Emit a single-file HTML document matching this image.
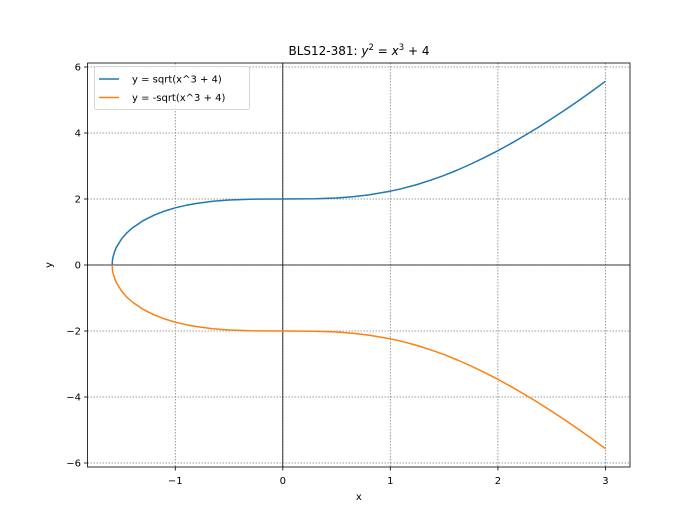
<!DOCTYPE html>
<html><head><meta charset="utf-8"><style>
html,body{margin:0;padding:0;background:#fff;}
svg{display:block;font-family:"DejaVu Sans","Liberation Sans",sans-serif;}
</style></head><body>
<svg width="700" height="525" viewBox="0 0 700 525" xmlns="http://www.w3.org/2000/svg">
<rect width="700" height="525" fill="#fff"/>
<g stroke="#808080" stroke-width="0.8" stroke-dasharray="1.5,1.5">
<line x1="175.3" y1="63" x2="175.3" y2="467"/>
<line x1="282.8" y1="63" x2="282.8" y2="467"/>
<line x1="390.3" y1="63" x2="390.3" y2="467"/>
<line x1="497.9" y1="63" x2="497.9" y2="467"/>
<line x1="605.4" y1="63" x2="605.4" y2="467"/>
<line x1="87.5" y1="67" x2="630" y2="67"/>
<line x1="87.5" y1="133" x2="630" y2="133"/>
<line x1="87.5" y1="199" x2="630" y2="199"/>
<line x1="87.5" y1="265" x2="630" y2="265"/>
<line x1="87.5" y1="331" x2="630" y2="331"/>
<line x1="87.5" y1="397" x2="630" y2="397"/>
<line x1="87.5" y1="463" x2="630" y2="463"/>
</g>
<line x1="87.5" y1="265" x2="630" y2="265" stroke="#000" stroke-width="0.8"/>
<line x1="282.8" y1="63" x2="282.8" y2="467" stroke="#000" stroke-width="0.8"/>
<g fill="none" stroke-width="1.5" stroke-linejoin="round" stroke-linecap="butt">
<polyline id="up" stroke="#1f77b4" points="112.2,265 112.4,260.9 112.7,258.6 113.3,255.9 114.4,252.2 116.2,247.7 121.6,238.9 126.9,232.8 132.3,228.0 143.0,220.7 153.8,215.3 164.5,211.1 175.3,207.8 186.1,205.3 196.8,203.4 212.9,201.3 229.1,200.0 250.5,199.2 282.8,199.0 315.1,198.8 336.6,198.0 352.7,196.8 368.8,194.9 390.3,191.2 401.1,188.8 417.2,184.5 430.6,180.2 444.1,175.4 457.5,170.0 471.0,164.0 484.4,157.6 497.9,150.7 511.3,143.3 524.7,135.5 538.2,127.4 551.6,118.8 565.1,109.9 578.5,100.7 592.0,91.1 605.4,81.3"/>
<polyline stroke="#ff7f0e" transform="translate(0,530) scale(1,-1)" points="112.2,265 112.4,260.9 112.7,258.6 113.3,255.9 114.4,252.2 116.2,247.7 121.6,238.9 126.9,232.8 132.3,228.0 143.0,220.7 153.8,215.3 164.5,211.1 175.3,207.8 186.1,205.3 196.8,203.4 212.9,201.3 229.1,200.0 250.5,199.2 282.8,199.0 315.1,198.8 336.6,198.0 352.7,196.8 368.8,194.9 390.3,191.2 401.1,188.8 417.2,184.5 430.6,180.2 444.1,175.4 457.5,170.0 471.0,164.0 484.4,157.6 497.9,150.7 511.3,143.3 524.7,135.5 538.2,127.4 551.6,118.8 565.1,109.9 578.5,100.7 592.0,91.1 605.4,81.3"/>
</g>
<rect x="87.5" y="63" width="542.5" height="404" fill="none" stroke="#000" stroke-width="0.8"/>
<g stroke="#000" stroke-width="0.8">
<line x1="175.3" y1="467" x2="175.3" y2="470.5"/><line x1="282.8" y1="467" x2="282.8" y2="470.5"/><line x1="390.3" y1="467" x2="390.3" y2="470.5"/><line x1="497.9" y1="467" x2="497.9" y2="470.5"/><line x1="605.4" y1="467" x2="605.4" y2="470.5"/>
<line x1="84" y1="67" x2="87.5" y2="67"/><line x1="84" y1="133" x2="87.5" y2="133"/><line x1="84" y1="199" x2="87.5" y2="199"/><line x1="84" y1="265" x2="87.5" y2="265"/><line x1="84" y1="331" x2="87.5" y2="331"/><line x1="84" y1="397" x2="87.5" y2="397"/><line x1="84" y1="463" x2="87.5" y2="463"/>
</g>
<g font-size="10" fill="#000" text-anchor="middle">
<text x="175.3" y="484">−1</text><text x="282.8" y="484">0</text><text x="390.3" y="484">1</text><text x="497.9" y="484">2</text><text x="605.4" y="484">3</text>
</g>
<g font-size="10" fill="#000" text-anchor="end">
<text x="81" y="70.5">6</text><text x="81" y="136.5">4</text><text x="81" y="202.5">2</text><text x="81" y="268.5">0</text><text x="81" y="334.5">−2</text><text x="81" y="400.5">−4</text><text x="81" y="466.5">−6</text>
</g>
<text x="358.8" y="500" font-size="10" text-anchor="middle">x</text>
<text transform="translate(52,265) rotate(-90)" font-size="10" text-anchor="middle">y</text>
<text x="359" y="55" font-size="12" text-anchor="middle">BLS12-381: <tspan font-style="italic">y</tspan><tspan font-size="8.5" dy="-5">2</tspan><tspan dy="5"> = </tspan><tspan font-style="italic">x</tspan><tspan font-size="8.5" dy="-5">3</tspan><tspan dy="5"> + 4</tspan></text>
<rect x="94.5" y="66.5" width="155" height="43" rx="2" fill="#fff" fill-opacity="0.8" stroke="#ccc" stroke-width="0.8"/>
<line x1="99" y1="79" x2="119" y2="79" stroke="#1f77b4" stroke-width="1.5"/>
<line x1="99" y1="97.5" x2="119" y2="97.5" stroke="#ff7f0e" stroke-width="1.5"/>
<text x="132" y="82.5" font-size="10">y = sqrt(x^3 + 4)</text>
<text x="132" y="101" font-size="10">y = -sqrt(x^3 + 4)</text>
</svg>
</body></html>
